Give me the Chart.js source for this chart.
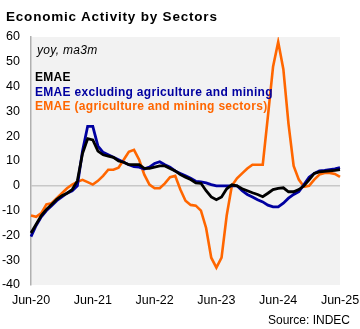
<!DOCTYPE html>
<html>
<head>
<meta charset="utf-8">
<script src="https://cdn.jsdelivr.net/npm/chart.js@4.4.1/dist/chart.umd.min.js"></script>
<style>
  html, body { margin: 0; padding: 0; background: #fff; }
  #wrap { position: relative; width: 360px; height: 329px; font-family: Arial, "Liberation Sans", sans-serif; }
  #chart { position: absolute; left: 0; top: 0; }
  .txt { position: absolute; white-space: nowrap; line-height: 1; }
  .title { left: 6px; top: 10px; font-size: 13.5px; font-weight: bold; letter-spacing: 0.8px; color: #000; }
  .note { left: 37px; top: 44px; font-size: 12px; font-style: italic; letter-spacing: 0.3px; color: #000; }
  .leg { left: 35px; font-size: 12px; font-weight: bold; letter-spacing: 0.3px; }
  .source { right: 10px; top: 314px; font-size: 12px; color: #000; }
</style>
</head>
<body>
<div id="wrap">
  <canvas id="chart" width="360" height="329"></canvas>
  <div class="txt title">Economic Activity by Sectors</div>
  <div class="txt note">yoy, ma3m</div>
  <div class="txt leg" style="top:71px;color:#000;">EMAE</div>
  <div class="txt leg" style="top:86px;color:#0000a0;">EMAE excluding agriculture and mining</div>
  <div class="txt leg" style="top:100px;color:#ff6600;">EMAE (agriculture and mining sectors)</div>
  <div class="txt source">Source: INDEC</div>
</div>
<script>
// months Jun-20 .. Jun-25
const monthNames = ['Jan', 'Feb', 'Mar', 'Apr', 'May', 'Jun', 'Jul', 'Aug', 'Sep', 'Oct', 'Nov', 'Dec'];
const labels = [];
for (let k = 0; k < 61; k++) {
    const m = (5 + k) % 12;
    const y = 20 + Math.floor((5 + k) / 12);
    labels.push(monthNames[m] + '-' + y);
}
const tickLabels = ['Jun-20', 'Jun-21', 'Jun-22', 'Jun-23', 'Jun-24', 'Jun-25'];

const emae = [-19, -15.5, -12, -9.5, -7.5, -5.5, -4, -3, -1.5, 2, 13, 19, 18.5, 14, 12.5, 12, 11.5, 10, 9.5, 8.5,
    8.5, 8.5, 7, 7, 7.5, 8, 8, 7, 6, 4.5, 3.5, 2.5, 1.2, 1, -2, -4.5, -5.6, -4.5, -1.2, 0.4,
    0, -1.2, -2, -2.8, -3.5, -4.4, -3, -1.5, -1, -0.8, -2.4, -2.4, -1.5, 0, 2.4, 5, 5.6, 5.8, 6, 6.2, 6.5];
const emaeExAgri = [-20.5, -16, -12.5, -10, -8, -6, -4.5, -3, -2, 0, 14, 24, 24, 16, 13.5, 12.5, 11.5, 10.5, 9.5, 8.5,
    7.7, 7.5, 6.8, 7.5, 9, 9.7, 8.5, 7.5, 6, 5, 4, 3, 1.8, 1.6, 1.2, 0.5, 0, 0, 0, 0,
    0, -2, -3.5, -4.5, -5.6, -6.5, -7.8, -8.5, -8.5, -7, -5, -3.5, -2.4, 0.5, 3.5, 5, 6, 6.2, 6.5, 6.8, 7.3];
const emaeAgri = [-12, -12.5, -11, -7.5, -7, -5, -3, -1, 0.5, 1.6, 2.4, 1.5, 0.5, 2, 4, 6.5, 6.5, 7.3, 10.5, 13.7,
    14.5, 10.5, 4.5, 0.5, -1, -1, 1, 3.5, 4, -1.5, -6, -7.7, -8, -10, -17, -29, -33, -29, -12, 0,
    3, 5, 7, 8.5, 8.5, 8.5, 28, 48, 58, 47, 25, 8, 2.5, -0.4, 0, 2.5, 4.5, 5.2, 5.2, 4.8, 3.6];

const plotBg = {
    id: 'plotBg',
    beforeDraw(chart) {
        const a = chart.chartArea;
        const c = chart.ctx;
        c.save();
        c.fillStyle = '#f2f2f2';
        c.fillRect(a.left, a.top, a.right - a.left, a.bottom - a.top);
        c.restore();
    }
};

const ctx = document.getElementById('chart');
new Chart(ctx, {
    type: 'line',
    data: {
        labels: labels,
        datasets: [
            { label: 'EMAE', data: emae, borderColor: '#000000', borderWidth: 2.8 },
            { label: 'EMAE excluding agriculture and mining', data: emaeExAgri, borderColor: '#0000a0', borderWidth: 2.8 },
            { label: 'EMAE (agriculture and mining sectors)', data: emaeAgri, borderColor: '#ff6600', borderWidth: 2.6 }
        ]
    },
    options: {
        responsive: false,
        animation: false,
        devicePixelRatio: 1,
        layout: { padding: { top: 37, right: 20, left: 0, bottom: 0 } },
        elements: { point: { radius: 0 }, line: { tension: 0 } },
        plugins: { legend: { display: false }, tooltip: { enabled: false } },
        scales: {
            x: {
                offset: false,
                grid: { display: false, drawTicks: false },
                border: { display: false },
                ticks: {
                    autoSkip: false,
                    maxRotation: 0,
                    padding: 8,
                    color: '#000',
                    font: { family: 'Arial, "Liberation Sans", sans-serif', size: 12.5 },
                    callback: function (v, i) {
                        return tickLabels.includes(labels[i]) ? labels[i] : '';
                    }
                },
                afterFit: function (s) {
                    s.height = 44;
                    s.paddingLeft = 0;
                    s.paddingRight = 0;
                }
            },
            y: {
                min: -40,
                max: 60,
                grid: {
                    drawTicks: false,
                    lineWidth: 1.5,
                    color: c => c.tick && c.tick.value === 0 ? '#c8c8c8' : 'transparent'
                },
                border: { display: true, color: '#b0b0b0', width: 1.5 },
                ticks: {
                    stepSize: 10,
                    padding: 11,
                    color: '#000',
                    font: { family: 'Arial, "Liberation Sans", sans-serif', size: 12.5 }
                },
                afterFit: function (s) { s.width = 31; }
            }
        }
    },
    plugins: [plotBg]
});
</script>
</body>
</html>
